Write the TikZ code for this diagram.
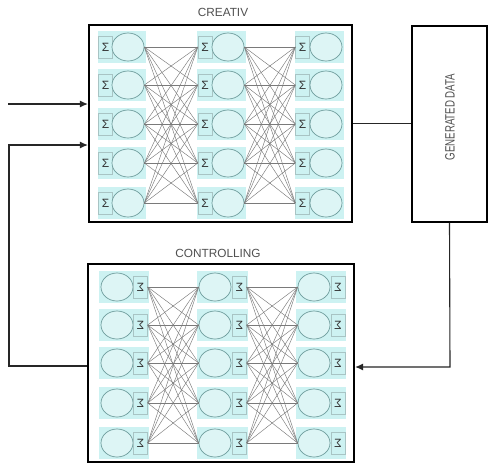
\documentclass[tikz,border=0pt]{standalone}
\usepackage{fontspec}
\usepackage{graphicx}
\setmainfont{Liberation Sans}
\usetikzlibrary{arrows.meta,shapes.geometric}
\definecolor{cyanbg}{HTML}{CDF2F2}
\definecolor{neufill}{HTML}{DDF5F5}
\definecolor{neuline}{HTML}{6E9C9C}
\definecolor{wiregray}{HTML}{7A7A7A}
\definecolor{txtgray}{HTML}{505050}
\tikzset{
  neuron/.style={ellipse,draw=neuline,fill=neufill,line width=0.7pt,minimum width=32pt,minimum height=28pt,inner sep=0pt},
  sigbox/.style={rectangle,draw=neuline!60,fill=cyanbg,line width=0.4pt,minimum width=14pt,minimum height=22pt,inner sep=0pt,font=\fontsize{12}{12}\selectfont,text=black!80},
  mainbox/.style={rectangle,draw=black,line width=2.2pt,inner sep=0pt},
  genbox/.style={rectangle,draw=black,line width=1.6pt,inner sep=0pt},
  wire/.style={draw=wiregray,line width=0.45pt},
  conn/.style={draw=black!85,line width=1.1pt},
  arr/.style={conn,-{Latex[length=8pt,width=7pt]}},
  title/.style={font=\fontsize{11.8}{12}\selectfont,text=txtgray},
}
\begin{document}
\begin{tikzpicture}[x=1pt,y=-1pt]
\useasboundingbox (0,0) rectangle (492,467);
\fill[white] (0,0) rectangle (492,467);

% boxes
\node[mainbox,minimum width=263pt,minimum height=197pt] (top) at (220.5,123.5) {};
\node[mainbox,minimum width=266pt,minimum height=198pt] (bot) at (221,363) {};
\node[genbox,minimum width=75pt,minimum height=196pt] (gen) at (449.5,124) {};
\node[text=txtgray] (gentxt) at (450,117) {\rotatebox{90}{\scalebox{0.72}[1]{\fontsize{13.5}{14}\selectfont GENERATED DATA}}};

\node[title] (ttop) at (223,12) {CREATIV};
\node[title] (tbot) at (218,253) {CONTROLLING};

% top network
\foreach \c/\sx/\ex in {1/105.5/128,2/205/228,3/302.5/326}{
  \foreach \r/\y in {1/47,2/85,3/124,4/163,5/203}{
    \fill[cyanbg] (\sx-8,\y-16) rectangle (\ex+18,\y+16);
    \node[sigbox] (ts\c\r) at (\sx,\y) {Σ};
    \node[neuron] (te\c\r) at (\ex,\y) {};
  }
}
\foreach \i in {1,...,5}{
  \foreach \j in {1,...,5}{
    \draw[wire] (te1\i.east) -- (ts2\j.west);
    \draw[wire] (te2\i.east) -- (ts3\j.west);
  }
}

% bottom network
\foreach \c/\ex/\sx in {1/117/140.5,2/215/239.5,3/314/338}{
  \foreach \r/\y in {1/287,2/325,3/363,4/403,5/443}{
    \fill[cyanbg] (\ex-18,\y-16) rectangle (\sx+8,\y+16);
    \node[neuron] (be\c\r) at (\ex,\y) {};
    \node[sigbox] (bs\c\r) at (\sx,\y) {\reflectbox{Σ}};
  }
}
\foreach \i in {1,...,5}{
  \foreach \j in {1,...,5}{
    \draw[wire] (bs1\i.east) -- (be2\j.west);
    \draw[wire] (bs2\i.east) -- (be3\j.west);
  }
}

% connectors
\coordinate (in1) at (8,104);
\draw[arr] (in1) -- (top.west |- in1);
\draw[conn] (top.east) -- (gen.west |- top.east);
\coordinate (c1) at (450,367);
\draw[arr] (gen.south) -- (c1) -- (bot.east |- c1);
\coordinate (c2) at (9,366);
\coordinate (c3) at (9,145);
\draw[arr] (bot.west |- c2) -- (c2) -- (c3) -- (top.west |- c3);
\end{tikzpicture}
\end{document}
